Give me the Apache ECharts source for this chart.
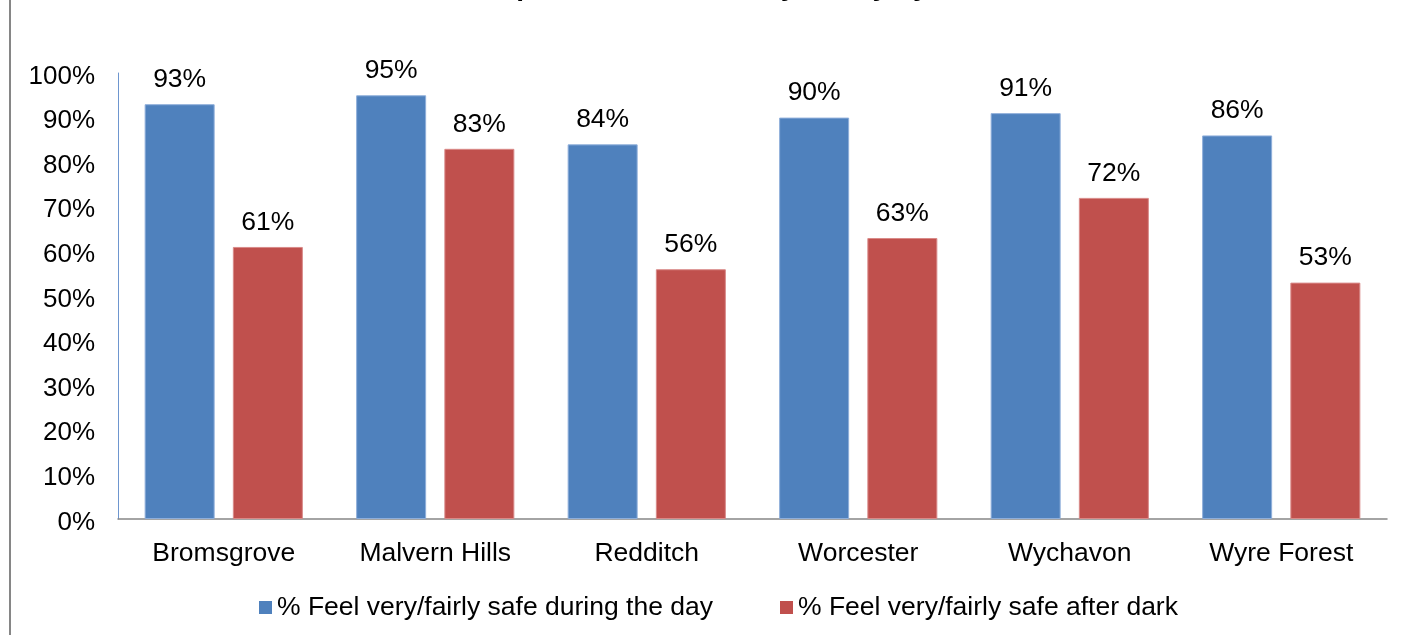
<!DOCTYPE html>
<html>
<head>
<meta charset="utf-8">
<script src="https://cdn.jsdelivr.net/npm/echarts@6/dist/echarts.min.js"></script>
<style>
  html, body { margin: 0; padding: 0; background: #ffffff; }
  #chart { width: 1407px; height: 635px; }
</style>
</head>
<body>
<div id="chart"></div>
<script>
// Districts and survey results (% of residents feeling very/fairly safe)
const districts = ['Bromsgrove', 'Malvern Hills', 'Redditch', 'Worcester', 'Wychavon', 'Wyre Forest'];
const safeDay = [93, 95, 84, 90, 91, 86];
const safeDark = [61, 83, 56, 63, 72, 53];
const seriesNames = ['% Feel very/fairly safe during the day', '% Feel very/fairly safe after dark'];
const titleText = 'Perceptions of Community Safety by District, 2011';

const FONT = '"Liberation Sans", Arial, sans-serif';
const chart = echarts.init(document.getElementById('chart'), null, { renderer: 'canvas' });

const labelStyle = {
  show: true,
  position: 'top',
  distance: 11,
  color: '#000000',
  fontFamily: FONT,
  fontSize: 26.5,
  formatter: p => p.value + '%'
};

chart.setOption({
  animation: false,
  backgroundColor: '#ffffff',
  title: {
    text: titleText,
    left: 435,
    top: -32,
    textStyle: { fontFamily: FONT, fontSize: 28, fontWeight: 'bold', color: '#000000' }
  },
  graphic: [{
    type: 'line',
    shape: { x1: 10, y1: 0, x2: 10, y2: 635 },
    style: { stroke: '#868686', lineWidth: 2 },
    silent: true
  }],
  legend: {
    left: 254,
    top: 589,
    itemWidth: 13,
    itemHeight: 13,
    itemGap: 67,
    icon: 'rect',
    itemStyle: { borderWidth: 0 },
    textStyle: { fontFamily: FONT, fontSize: 26.5, color: '#000000' },
    data: seriesNames
  },
  grid: { left: 118, right: 20, top: 73, bottom: 116, containLabel: false },
  xAxis: {
    type: 'category',
    data: districts,
    axisLine: { lineStyle: { color: '#868686', width: 1.5 } },
    axisTick: { show: false },
    axisLabel: { color: '#000000', fontFamily: FONT, fontSize: 26.5, margin: 21 }
  },
  yAxis: {
    type: 'value',
    min: 0,
    max: 100,
    interval: 10,
    axisLine: { show: true, lineStyle: { color: '#6E96CF', width: 1 } },
    axisTick: { show: false },
    splitLine: { show: false },
    axisLabel: {
      margin: 23,
      formatter: '{t|{value}%}',
      rich: {
        t: { color: '#000000', fontFamily: FONT, fontSize: 26, padding: [7, 0, 0, 0] }
      }
    }
  },
  series: [
    {
      name: seriesNames[0],
      type: 'bar',
      data: safeDay,
      barWidth: 70,
      barGap: '26%',
      itemStyle: { color: '#4F81BD', borderColor: '#8EAEDA', borderWidth: 1 },
      label: labelStyle
    },
    {
      name: seriesNames[1],
      type: 'bar',
      data: safeDark,
      barWidth: 70,
      barGap: '26%',
      itemStyle: { color: '#C0504D', borderColor: '#D98A88', borderWidth: 1 },
      label: labelStyle
    }
  ]
});
</script>
</body>
</html>
